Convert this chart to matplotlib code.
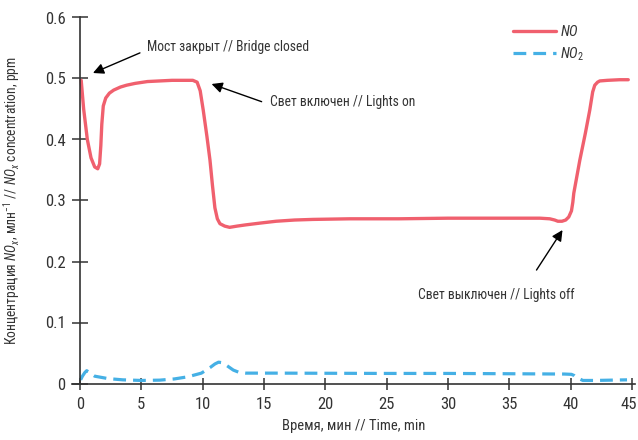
import matplotlib
matplotlib.use("Agg")
import matplotlib.pyplot as plt
from matplotlib.transforms import ScaledTranslation

# ── Data ──────────────────────────────────────────────────────────────────────
no_t = [0.1, 0.3, 0.6, 0.9, 1.2, 1.45, 1.6, 1.7, 1.78, 1.9, 2.1, 2.4, 2.75,
        3.3, 3.8, 4.5, 5.5, 6.5, 7.5, 8.5, 9.2, 9.55, 9.8, 10.05, 10.35,
        10.6, 10.8, 11.0, 11.2, 11.41, 11.8, 12.2, 12.8, 13.5, 14.7, 16,
        17.5, 19, 22, 26, 30, 34, 37.5, 38.3, 38.7, 38.96, 39.3, 39.6,
        39.85, 40.07, 40.18, 40.26, 40.75, 41.2, 41.56, 41.8, 41.97, 42.2,
        42.38, 43, 44, 44.7]
no_c = [0.497, 0.45, 0.40, 0.37, 0.355, 0.352, 0.36, 0.39, 0.425, 0.455,
        0.468, 0.476, 0.481, 0.486, 0.489, 0.492, 0.495, 0.496, 0.497,
        0.497, 0.497, 0.494, 0.48, 0.448, 0.405, 0.366, 0.325, 0.288, 0.27,
        0.262, 0.258, 0.256, 0.258, 0.26, 0.263, 0.266, 0.268, 0.269, 0.27,
        0.27, 0.271, 0.271, 0.271, 0.27, 0.268, 0.266, 0.266, 0.268, 0.273,
        0.283, 0.297, 0.312, 0.366, 0.41, 0.448, 0.478, 0.489, 0.494, 0.496,
        0.497, 0.498, 0.498]

no2_t = [0.05, 0.2, 0.4, 0.55, 1.2, 2.3, 3.5, 5.0, 6.5, 7.7, 8.8, 9.9, 10.6,
         11.0, 11.3, 11.6, 12.0, 12.5, 13.0, 13.5, 16, 25, 30, 35, 39.5,
         40.07, 40.3, 40.48, 41.0, 42, 44.6]
no2_c = [0.006, 0.012, 0.018, 0.021, 0.012, 0.008, 0.006, 0.005, 0.0055,
         0.0075, 0.011, 0.017, 0.026, 0.032, 0.035, 0.034, 0.029, 0.022,
         0.018, 0.017, 0.017, 0.0165, 0.0165, 0.016, 0.0155, 0.015, 0.013,
         0.01, 0.005, 0.005, 0.006]

x_ticks = [0, 5, 10, 15, 20, 25, 30, 35, 40, 45]
y_ticks = [0, 0.1, 0.2, 0.3, 0.4, 0.5, 0.6]
y_tick_labels = ["0", "0.1", "0.2", "0.3", "0.4", "0.5", "0.6"]

NO_COLOR = "#f0606e"
NO2_COLOR = "#45b0e5"
INK = "#333333"

plt.rcParams["font.family"] = ["Roboto Condensed", "Liberation Sans", "DejaVu Sans"]
plt.rcParams["mathtext.fontset"] = "custom"
plt.rcParams["mathtext.it"] = "Roboto Condensed:italic"
plt.rcParams["mathtext.rm"] = "Roboto Condensed"

fig = plt.figure(figsize=(6.38, 4.40), dpi=100)
ax = fig.add_axes([72 / 638, 56.5 / 440, 563 / 638, 366 / 440])

ax.plot(no_t, no_c, color=NO_COLOR, lw=2.4, solid_capstyle="round", label="$\\mathit{NO}$")
ax.plot(no2_t, no2_c, color=NO2_COLOR, lw=2.3, dashes=(4, 2.2), label="$\\mathit{NO_2}$")

ax.set_xlim(-0.65, 45.25)
ax.set_ylim(0, 0.6)
ax.spines["left"].set_position(("data", 0))
ax.spines["left"].set_bounds(0, 0.6)
for side in ("top", "right"):
    ax.spines[side].set_visible(False)
for side in ("left", "bottom"):
    ax.spines[side].set_color(INK)
    ax.spines[side].set_linewidth(1.2)

ax.set_xticks(x_ticks)
ax.set_yticks(y_ticks)
ax.set_yticklabels(y_tick_labels)
ax.tick_params(axis="x", direction="inout", length=8, width=1.1, colors=INK,
               labelsize=12, pad=6)
ax.tick_params(axis="y", direction="inout", length=11, width=1.1, colors=INK,
               labelsize=12, pad=5)

# the last x label sits right at the figure edge; nudge it left a little
last = ax.get_xticklabels()[-1]
last.set_transform(last.get_transform() + ScaledTranslation(-3 / 100, 0, fig.dpi_scale_trans))

ax.set_xlabel("Время, мин // Time, min", fontsize=10.5, color=INK, labelpad=5)
ax.set_ylabel("Концентрация $\\mathit{NO_x}$, млн$^{-1}$ // $\\mathit{NO_x}$ concentration, ppm",
              fontsize=9.8, color=INK)
ax.yaxis.set_label_coords(-0.088, 0.5)

arrow = dict(arrowstyle="-|>", color="black", lw=1.0, mutation_scale=16,
             shrinkA=0, shrinkB=0)
ax.annotate("", xy=(1.06, 0.509), xytext=(4.89, 0.542), arrowprops=arrow)
ax.text(5.46, 0.552, "Мост закрыт // Bridge closed", fontsize=9.8, color=INK,
        va="center", ha="left")
ax.annotate("", xy=(10.73, 0.491), xytext=(14.81, 0.462), arrowprops=arrow)
ax.text(15.48, 0.4615, "Свет включен // Lights on", fontsize=9.8, color=INK,
        va="center", ha="left")
ax.annotate("", xy=(39.34, 0.2516), xytext=(37.22, 0.186), arrowprops=arrow)
ax.text(33.95, 0.145, "Свет выключен // Lights off", fontsize=9.8, color=INK,
        va="center", ha="center")

leg = ax.legend(loc="upper left", bbox_to_anchor=(434 / 563, 1.0 + 1 / 366),
                frameon=False, fontsize=10.5, handlelength=2.9, handletextpad=0.3,
                labelspacing=0.45, borderpad=0)
for t in leg.get_texts():
    t.set_color(INK)

fig.savefig("out.png", dpi=100)
